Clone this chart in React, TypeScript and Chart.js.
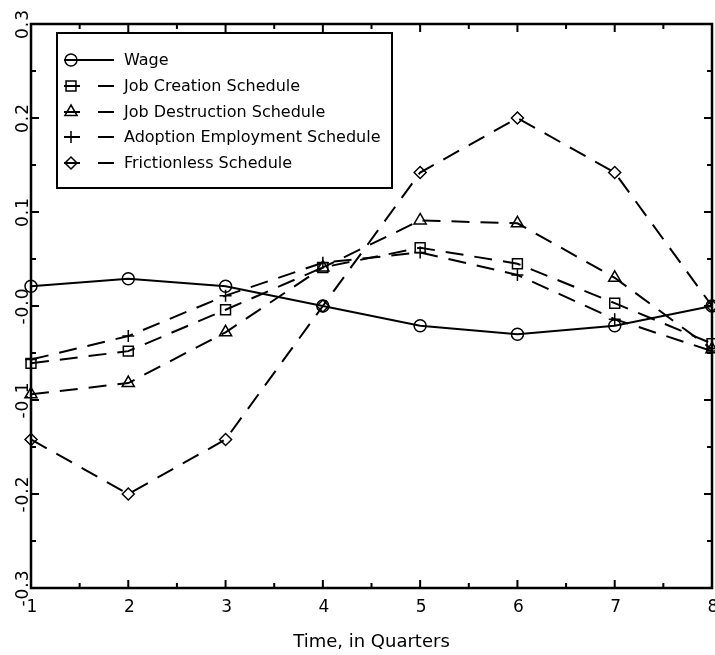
import React, { useEffect, useRef } from "react";
import { Chart, registerables } from "chart.js";

Chart.register(...registerables);

const quarters = [1, 2, 3, 4, 5, 6, 7, 8];
const wage = [0.021, 0.029, 0.021, 0.0, -0.021, -0.03, -0.021, 0.0];
const jobCreation = [-0.061, -0.048, -0.004, 0.041, 0.062, 0.045, 0.003, -0.04];
const jobDestruction = [-0.094, -0.082, -0.028, 0.041, 0.091, 0.088, 0.03, -0.046];
const adoptionEmployment = [-0.057, -0.032, 0.011, 0.046, 0.057, 0.033, -0.014, -0.048];
const frictionless = [-0.142, -0.2, -0.142, 0.0, 0.142, 0.2, 0.142, 0.0];

const xTickLabels = ["1", "2", "3", "4", "5", "6", "7", "8"];
const yTickValues = [-0.3, -0.2, -0.1, 0, 0.1, 0.2, 0.3];
const yTickLabels = ["-0.3", "-0.2", "-0.1", "-0.0", "0.1", "0.2", "0.3"];
const xTitle = "Time, in Quarters";

const seriesNames = [
  "Wage",
  "Job Creation Schedule",
  "Job Destruction Schedule",
  "Adoption Employment Schedule",
  "Frictionless Schedule",
];
const seriesValues = [wage, jobCreation, jobDestruction, adoptionEmployment, frictionless];
const seriesStyles = ["circle", "rect", "triangle", "cross", "rectRot"];
const seriesRadius = [6, 7, 7, 6, 6];
const seriesDashed = [false, true, true, true, true];

const FONT = "'DejaVu Sans', sans-serif";

function drawMarker(ctx: CanvasRenderingContext2D, style: string, x: number, y: number, r: number) {
  ctx.beginPath();
  if (style === "circle") {
    ctx.arc(x, y, r, 0, Math.PI * 2);
  } else if (style === "rect") {
    const s = r * Math.SQRT1_2;
    ctx.rect(x - s, y - s, 2 * s, 2 * s);
  } else if (style === "triangle") {
    ctx.moveTo(x, y - r);
    ctx.lineTo(x + r * 0.87, y + r * 0.5);
    ctx.lineTo(x - r * 0.87, y + r * 0.5);
    ctx.closePath();
  } else if (style === "cross") {
    ctx.moveTo(x - r, y);
    ctx.lineTo(x + r, y);
    ctx.moveTo(x, y - r);
    ctx.lineTo(x, y + r);
  } else if (style === "rectRot") {
    ctx.moveTo(x, y - r);
    ctx.lineTo(x + r, y);
    ctx.lineTo(x, y + r);
    ctx.lineTo(x - r, y);
    ctx.closePath();
  }
  ctx.stroke();
}

const framePlugin = {
  id: "frame",
  afterDraw(chart: any) {
    const { ctx, chartArea } = chart;
    const { left, right, top, bottom } = chartArea;
    const xs = chart.scales.x;
    const ys = chart.scales.y;
    ctx.save();
    ctx.strokeStyle = "#000";
    ctx.fillStyle = "#000";
    ctx.setLineDash([]);
    ctx.lineWidth = 2.5;
    ctx.strokeRect(left, top, right - left, bottom - top);
    ctx.lineWidth = 2;
    for (let v = 1; v <= 8.001; v += 0.5) {
      const px = xs.getPixelForValue(v);
      const major = Math.abs(v - Math.round(v)) < 1e-6;
      const len = major ? 8 : 5;
      ctx.beginPath();
      ctx.moveTo(px, bottom);
      ctx.lineTo(px, bottom - len);
      ctx.moveTo(px, top);
      ctx.lineTo(px, top + len);
      ctx.stroke();
    }
    for (let i = -6; i <= 6; i++) {
      const v = i * 0.05;
      const py = ys.getPixelForValue(v);
      const major = i % 2 === 0;
      const len = major ? 8 : 5;
      ctx.beginPath();
      ctx.moveTo(left, py);
      ctx.lineTo(left + len, py);
      ctx.moveTo(right, py);
      ctx.lineTo(right - len, py);
      ctx.stroke();
    }
    // x tick labels
    ctx.font = `17px ${FONT}`;
    ctx.textAlign = "center";
    ctx.textBaseline = "middle";
    quarters.forEach((q, i) => {
      ctx.fillText(xTickLabels[i], xs.getPixelForValue(q) + 1, bottom + 20);
    });
    // y tick labels rotated
    (ctx as any).letterSpacing = "1px";
    yTickValues.forEach((v, i) => {
      const py = ys.getPixelForValue(v);
      ctx.save();
      ctx.translate(24, py);
      ctx.rotate(-Math.PI / 2);
      ctx.fillText(yTickLabels[i], 0, 0);
      ctx.restore();
    });
    (ctx as any).letterSpacing = "0px";
    // legend
    const bx = 57, by = 33, bw = 335, bh = 155;
    ctx.fillStyle = "#fff";
    ctx.fillRect(bx, by, bw, bh);
    ctx.lineWidth = 2;
    ctx.strokeRect(bx, by, bw, bh);
    const rowY = [60, 86, 112, 137, 163];
    ctx.font = `16px ${FONT}`;
    ctx.textAlign = "left";
    ctx.textBaseline = "middle";
    seriesNames.forEach((name, i) => {
      const y = rowY[i];
      ctx.strokeStyle = "#000";
      ctx.lineWidth = 2;
      ctx.beginPath();
      if (seriesDashed[i]) ctx.setLineDash([16, 18]);
      else ctx.setLineDash([]);
      ctx.moveTo(64, y);
      ctx.lineTo(114, y);
      ctx.stroke();
      ctx.setLineDash([]);
      ctx.lineWidth = 1.5;
      drawMarker(ctx, seriesStyles[i], 71, y, seriesRadius[i]);
      ctx.fillStyle = "#000";
      ctx.fillText(name, 124, y + 1);
    });
    ctx.restore();
  },
};

export default function App() {
  const canvasRef = useRef<HTMLCanvasElement | null>(null);

  useEffect(() => {
    const canvas = canvasRef.current;
    if (!canvas) return;
    const datasets = seriesNames.map((name, i) => ({
      label: name,
      data: quarters.map((q, j) => ({ x: q, y: seriesValues[i][j] })),
      borderColor: "#000",
      backgroundColor: "rgba(0,0,0,0)",
      borderWidth: 2,
      borderDash: seriesDashed[i] ? [18, 11] : [],
      pointStyle: seriesStyles[i],
      pointRadius: seriesRadius[i],
      pointBorderWidth: 1.5,
      pointBorderColor: "#000",
      pointBackgroundColor: "rgba(0,0,0,0)",
      tension: 0,
      fill: false,
      clip: 10,
    }));
    const chart = new Chart(canvas, {
      type: "line",
      data: { datasets },
      options: {
        animation: false,
        responsive: false,
        devicePixelRatio: 1,
        layout: { autoPadding: false, padding: { top: 24, right: 3, left: 0, bottom: 0 } },
        plugins: {
          legend: { display: false },
          tooltip: { enabled: false },
        },
        scales: {
          x: {
            type: "linear",
            min: 1,
            max: 8,
            grid: { display: false, drawTicks: false },
            border: { display: false },
            ticks: { display: false, stepSize: 1 },
            title: {
              display: true,
              text: xTitle,
              color: "#000",
              font: { family: FONT, size: 18 },
              padding: { top: 0, bottom: 2 },
            },
            afterFit: (scale: any) => {
              scale.height = 67;
              scale.paddingLeft = 0;
              scale.paddingRight = 0;
            },
          },
          y: {
            type: "linear",
            min: -0.3,
            max: 0.3,
            grid: { display: false, drawTicks: false },
            border: { display: false },
            ticks: { display: false, stepSize: 0.1 },
            afterFit: (scale: any) => {
              scale.width = 31;
              scale.paddingTop = 0;
              scale.paddingBottom = 0;
            },
          },
        },
      },
      plugins: [framePlugin],
    });
    return () => chart.destroy();
  }, []);

  return (
    <canvas
      ref={canvasRef}
      width={715}
      height={655}
      style={{ position: "absolute", left: 0, top: 0, display: "block", background: "#fff" }}
    />
  );
}
